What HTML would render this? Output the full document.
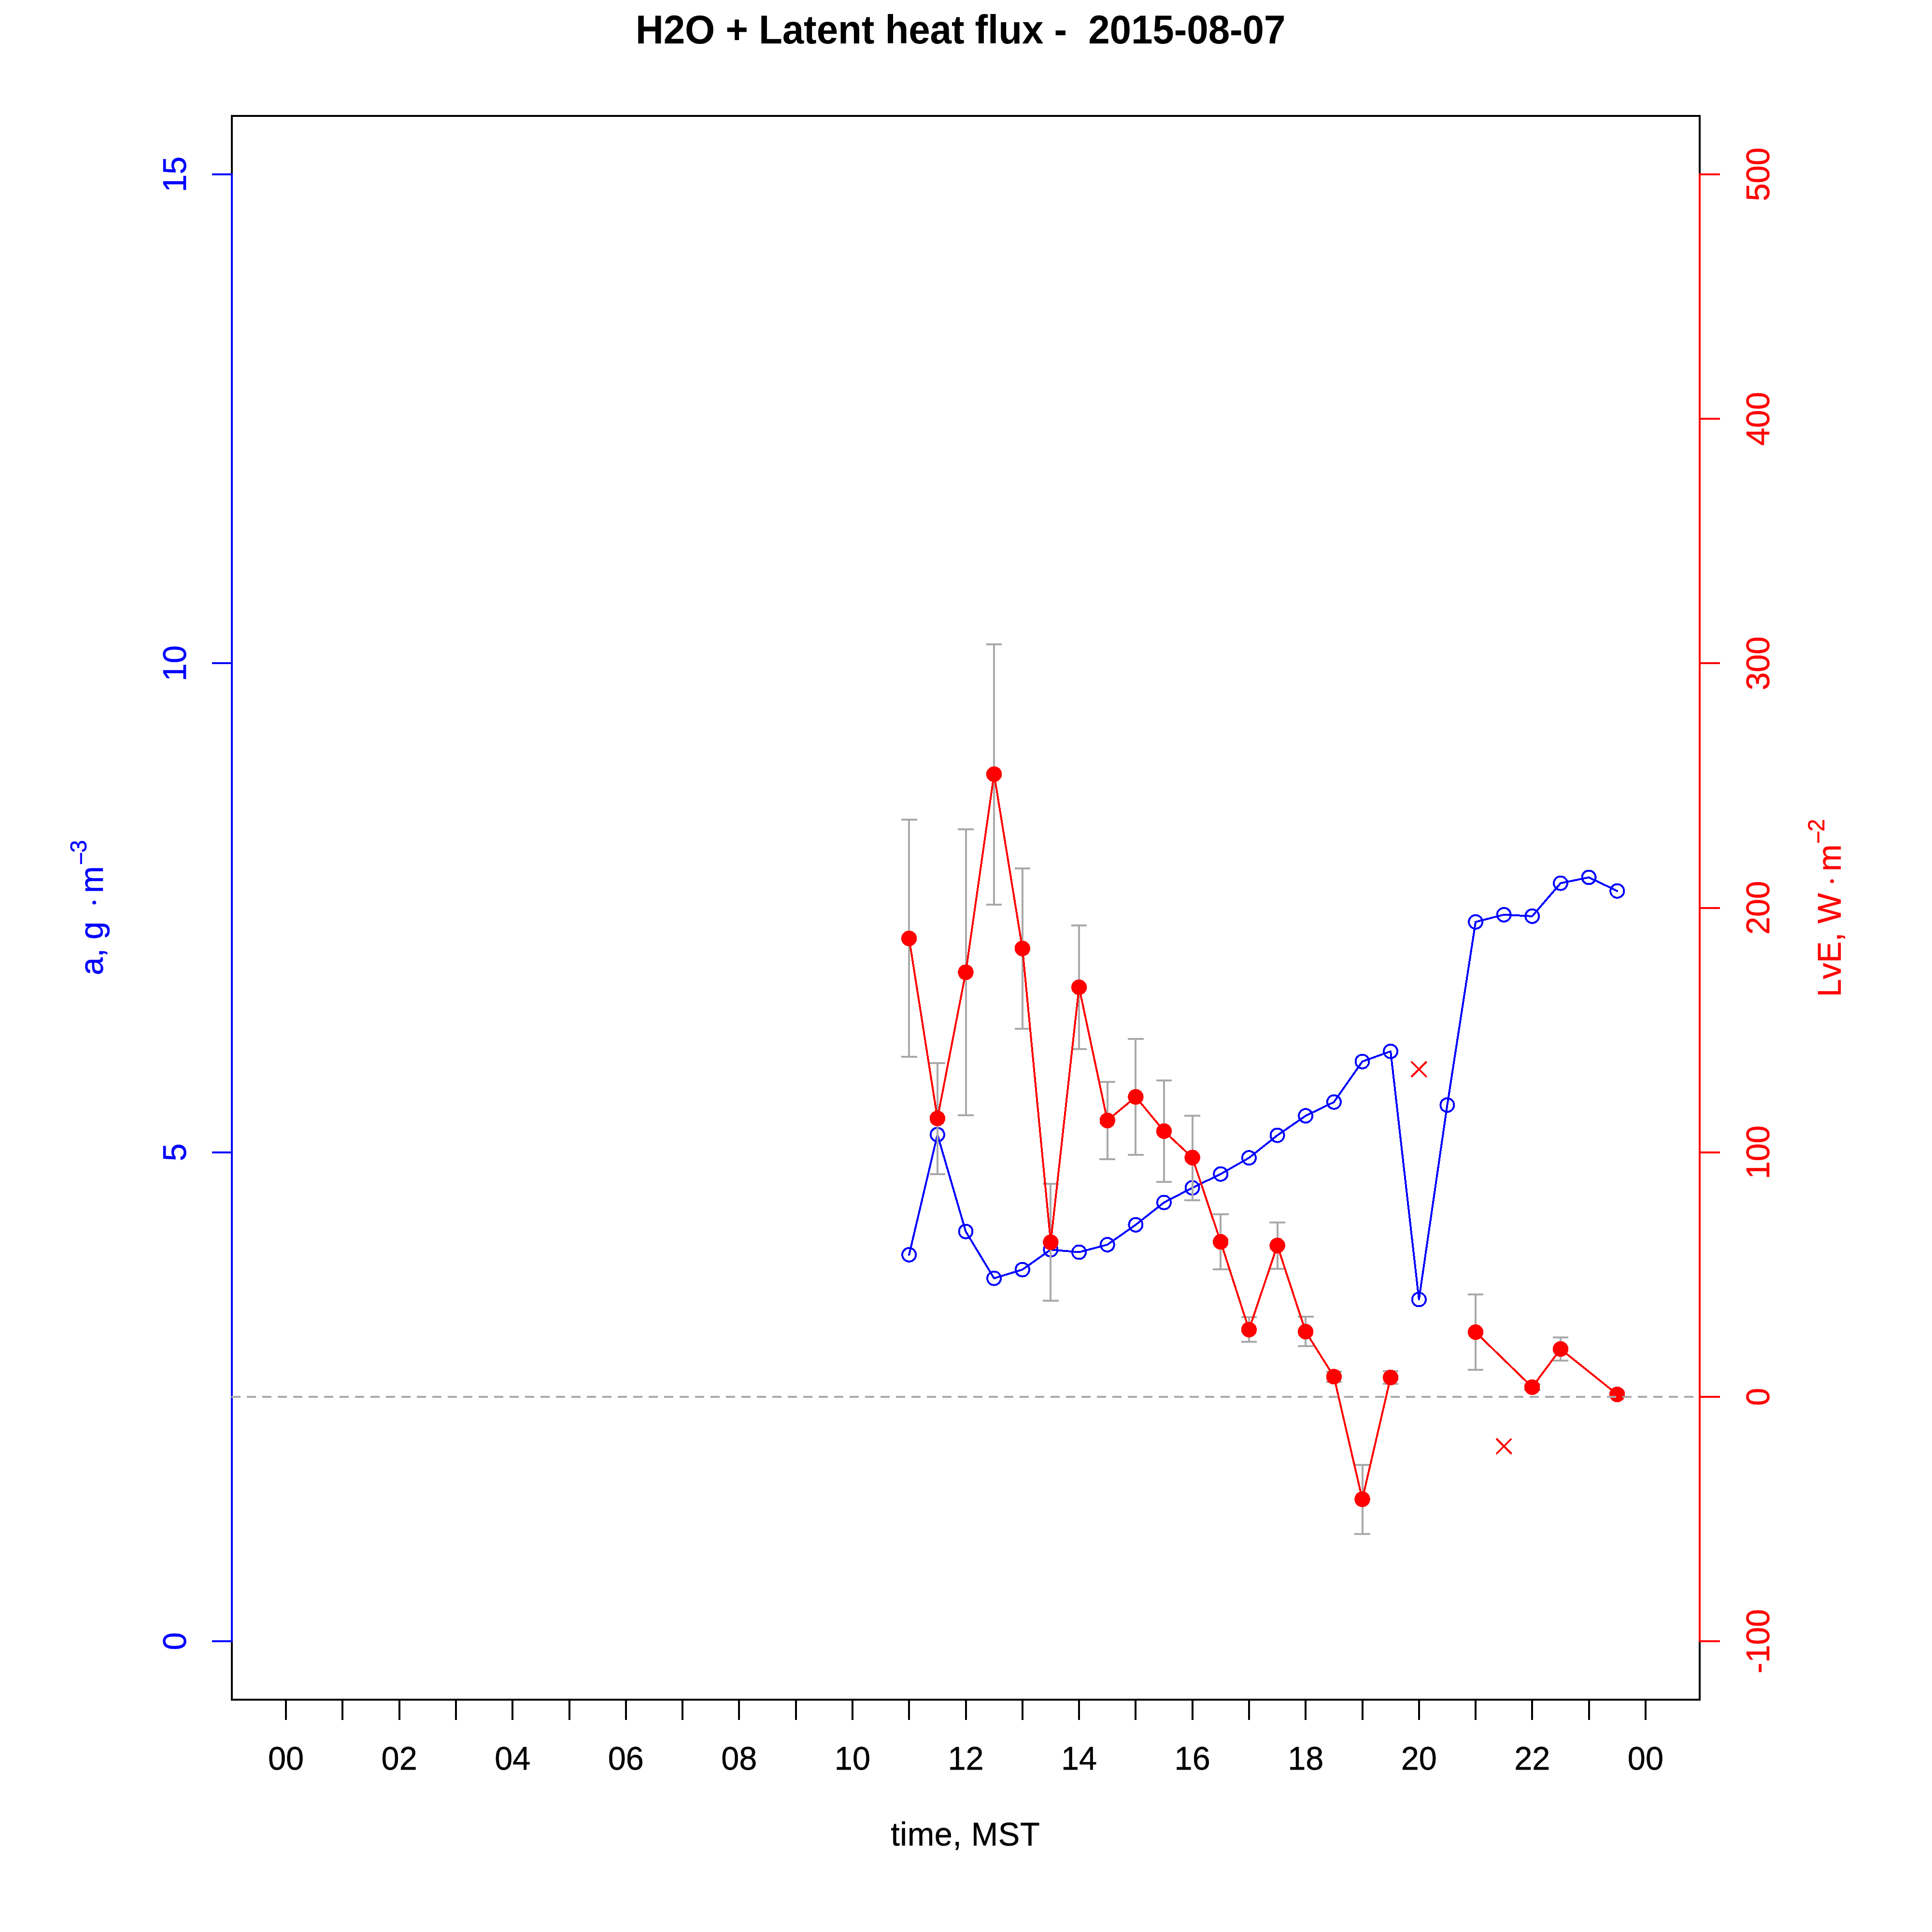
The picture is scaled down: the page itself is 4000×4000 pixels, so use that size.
<!DOCTYPE html>
<html lang="en"><head><meta charset="utf-8"><title>H2O + Latent heat flux - 2015-08-07</title>
<style>html,body{margin:0;padding:0;background:#fff;width:4000px;height:4000px;overflow:hidden}svg{display:block}text{font-family:"Liberation Sans",sans-serif;font-size:66.67px}</style>
</head><body>
<svg width="4000" height="4000" viewBox="0 0 4000 4000" shape-rendering="crispEdges">
<rect width="4000" height="4000" fill="#fff"/>
<text transform="translate(1316 89.5) scale(1 1.04)" style="font-size:80px;letter-spacing:-0.11px;font-weight:bold;white-space:pre" xml:space="preserve">H2O + Latent heat flux -  2015-08-07</text>
<rect x="480" y="240" width="3039" height="3279" fill="none" stroke="#000" stroke-width="4"/>
<g stroke="#0000ff" stroke-width="4" fill="none" stroke-linejoin="round" stroke-linecap="round">
<polyline points="1882.2,2597.8 1940.9,2349.1 1999.5,2549.7 2058.1,2646.6 2116.8,2628.6 2175.4,2587.3 2234.1,2592.5 2292.7,2577.0 2351.4,2535.8 2410.0,2489.6 2468.6,2459.3 2527.3,2430.7 2585.9,2397.2 2644.6,2350.6 2703.2,2310.2 2761.8,2281.7 2820.5,2197.8 2879.1,2176.7 2937.8,2690.5 2996.4,2287.9 3055.1,1908.7 3113.7,1893.8 3172.3,1896.9 3231.0,1828.6 3289.6,1816.5 3348.3,1844.7"/>
<circle cx="1882.2" cy="2597.8" r="14"/>
<circle cx="1940.9" cy="2349.1" r="14"/>
<circle cx="1999.5" cy="2549.7" r="14"/>
<circle cx="2058.1" cy="2646.6" r="14"/>
<circle cx="2116.8" cy="2628.6" r="14"/>
<circle cx="2175.4" cy="2587.3" r="14"/>
<circle cx="2234.1" cy="2592.5" r="14"/>
<circle cx="2292.7" cy="2577.0" r="14"/>
<circle cx="2351.4" cy="2535.8" r="14"/>
<circle cx="2410.0" cy="2489.6" r="14"/>
<circle cx="2468.6" cy="2459.3" r="14"/>
<circle cx="2527.3" cy="2430.7" r="14"/>
<circle cx="2585.9" cy="2397.2" r="14"/>
<circle cx="2644.6" cy="2350.6" r="14"/>
<circle cx="2703.2" cy="2310.2" r="14"/>
<circle cx="2761.8" cy="2281.7" r="14"/>
<circle cx="2820.5" cy="2197.8" r="14"/>
<circle cx="2879.1" cy="2176.7" r="14"/>
<circle cx="2937.8" cy="2690.5" r="14"/>
<circle cx="2996.4" cy="2287.9" r="14"/>
<circle cx="3055.1" cy="1908.7" r="14"/>
<circle cx="3113.7" cy="1893.8" r="14"/>
<circle cx="3172.3" cy="1896.9" r="14"/>
<circle cx="3231.0" cy="1828.6" r="14"/>
<circle cx="3289.6" cy="1816.5" r="14"/>
<circle cx="3348.3" cy="1844.7" r="14"/>
</g>
<g stroke="#0000ff" stroke-width="4" fill="none" stroke-linecap="butt">
<path d="M480 3400.0V359.0"/>
<path d="M439 3398.0H482"/>
<path d="M439 2385.7H482"/>
<path d="M439 1373.3H482"/>
<path d="M439 361.0H482"/>
</g>
<g fill="#0000ff" stroke="#0000ff" stroke-width=".5" text-anchor="middle">
<text transform="translate(385.3 3398.02) rotate(-90) scale(1 1.04)">0</text>
<text transform="translate(385.3 2385.67) rotate(-90) scale(1 1.04)">5</text>
<text transform="translate(385.3 1373.33) rotate(-90) scale(1 1.04)">10</text>
<text transform="translate(385.3 360.984) rotate(-90) scale(1 1.04)">15</text>
</g>
<g fill="#0000ff" stroke="#0000ff" stroke-width=".5">
<text transform="translate(213.1 2019) rotate(-90) scale(1 1.04)" style="white-space:pre" xml:space="preserve">a, g</text>
<text transform="translate(216.7 1868.6) rotate(-90) scale(1 1.04)" text-anchor="middle" style="font-size:62px;font-family:'Liberation Serif',serif">·</text>
<text transform="translate(213.1 1849) rotate(-90) scale(1 1.04)">m</text>
<text transform="translate(183.7 1791) rotate(-90) scale(1 1.04)" style="font-size:46.67px">−</text>
<text transform="translate(179.1 1765.2) rotate(-90) scale(1 1.04)" style="font-size:46.67px">3</text>
</g>
<g stroke="#a9a9a9" stroke-width="4" fill="none" stroke-linecap="butt">
<path d="M1882.2 1696.9V2188.2 M1865.9 1696.9h32.6 M1865.9 2188.2h32.6 M1940.9 2201.2V2431.0 M1924.6 2201.2h32.6 M1924.6 2431.0h32.6 M1999.5 1716.8V2309.0 M1983.2 1716.8h32.6 M1983.2 2309.0h32.6 M2058.1 1333.5V1873.0 M2041.8 1333.5h32.6 M2041.8 1873.0h32.6 M2116.8 1798.1V2130.1 M2100.5 1798.1h32.6 M2100.5 2130.1h32.6 M2175.4 2451.2V2693.2 M2159.1 2451.2h32.6 M2159.1 2693.2h32.6 M2234.1 1916.1V2171.7 M2217.8 1916.1h32.6 M2217.8 2171.7h32.6 M2292.7 2239.8V2400.0 M2276.4 2239.8h32.6 M2276.4 2400.0h32.6 M2351.4 2150.5V2391.0 M2335.1 2150.5h32.6 M2335.1 2391.0h32.6 M2410.0 2237.0V2446.9 M2393.7 2237.0h32.6 M2393.7 2446.9h32.6 M2468.6 2310.2V2485.1 M2452.3 2310.2h32.6 M2452.3 2485.1h32.6 M2527.3 2514.0V2628.0 M2511.0 2514.0h32.6 M2511.0 2628.0h32.6 M2585.9 2726.7V2777.6 M2569.6 2726.7h32.6 M2569.6 2777.6h32.6 M2644.6 2531.0V2627.0 M2628.3 2531.0h32.6 M2628.3 2627.0h32.6 M2703.2 2726.1V2786.6 M2686.9 2726.1h32.6 M2686.9 2786.6h32.6 M2761.8 2840.0V2861.2 M2745.5 2840.0h32.6 M2745.5 2861.2h32.6 M2820.5 3033.0V3175.8 M2804.2 3033.0h32.6 M2804.2 3175.8h32.6 M2879.1 2838.8V2865.2 M2862.8 2838.8h32.6 M2862.8 2865.2h32.6 M3055.1 2680.1V2836.0 M3038.8 2680.1h32.6 M3038.8 2836.0h32.6 M3172.3 2865.8V2878.3 M3156.0 2865.8h32.6 M3156.0 2878.3h32.6 M3231.0 2769.0V2816.8 M3214.7 2769.0h32.6 M3214.7 2816.8h32.6"/>
</g>
<g stroke="#ff0000" stroke-width="4" fill="none" stroke-linejoin="round" stroke-linecap="round">
<polyline points="1882.2,1942.9 1940.9,2315.5 1999.5,2013.0 2058.1,1602.8 2116.8,1963.7 2175.4,2572.0 2234.1,2044.1 2292.7,2319.9 2351.4,2271.0 2410.0,2341.9 2468.6,2396.6 2527.3,2571.1 2585.9,2752.8 2644.6,2578.6 2703.2,2757.1 2761.8,2850.3 2820.5,3104.0 2879.1,2851.9"/>
<polyline points="3055.1,2758.1 3172.3,2872.0 3231.0,2792.9 3348.3,2887.0"/>
<path stroke-linecap="butt" d="M2922.0 2198.0l31.6 31.6m0 -31.6l-31.6 31.6"/>
<path stroke-linecap="butt" d="M3097.9 2978.6l31.6 31.6m0 -31.6l-31.6 31.6"/>
</g>
<g fill="#ff0000">
<circle cx="1882.2" cy="1942.9" r="16.2"/>
<circle cx="1940.9" cy="2315.5" r="16.2"/>
<circle cx="1999.5" cy="2013.0" r="16.2"/>
<circle cx="2058.1" cy="1602.8" r="16.2"/>
<circle cx="2116.8" cy="1963.7" r="16.2"/>
<circle cx="2175.4" cy="2572.0" r="16.2"/>
<circle cx="2234.1" cy="2044.1" r="16.2"/>
<circle cx="2292.7" cy="2319.9" r="16.2"/>
<circle cx="2351.4" cy="2271.0" r="16.2"/>
<circle cx="2410.0" cy="2341.9" r="16.2"/>
<circle cx="2468.6" cy="2396.6" r="16.2"/>
<circle cx="2527.3" cy="2571.1" r="16.2"/>
<circle cx="2585.9" cy="2752.8" r="16.2"/>
<circle cx="2644.6" cy="2578.6" r="16.2"/>
<circle cx="2703.2" cy="2757.1" r="16.2"/>
<circle cx="2761.8" cy="2850.3" r="16.2"/>
<circle cx="2820.5" cy="3104.0" r="16.2"/>
<circle cx="2879.1" cy="2851.9" r="16.2"/>
<circle cx="3055.1" cy="2758.1" r="16.2"/>
<circle cx="3172.3" cy="2872.0" r="16.2"/>
<circle cx="3231.0" cy="2792.9" r="16.2"/>
<circle cx="3348.3" cy="2887.0" r="16.2"/>
</g>
<path d="M479 2891.8H3521" stroke="#a9a9a9" stroke-width="4" stroke-dasharray="19 13" fill="none"/>
<g stroke="#000" stroke-width="4" fill="none">
<path d="M592.1 3519V3560.5 M709.4 3519V3560.5 M826.7 3519V3560.5 M943.9 3519V3560.5 M1061.2 3519V3560.5 M1178.5 3519V3560.5 M1295.8 3519V3560.5 M1413.1 3519V3560.5 M1530.4 3519V3560.5 M1647.6 3519V3560.5 M1764.9 3519V3560.5 M1882.2 3519V3560.5 M1999.5 3519V3560.5 M2116.8 3519V3560.5 M2234.1 3519V3560.5 M2351.4 3519V3560.5 M2468.6 3519V3560.5 M2585.9 3519V3560.5 M2703.2 3519V3560.5 M2820.5 3519V3560.5 M2937.8 3519V3560.5 M3055.1 3519V3560.5 M3172.3 3519V3560.5 M3289.6 3519V3560.5 M3406.9 3519V3560.5"/>
</g>
<g fill="#000" stroke="#000" stroke-width=".5" text-anchor="middle">
<text transform="translate(592.093 3663.5) scale(1 1.04)">00</text>
<text transform="translate(826.661 3663.5) scale(1 1.04)">02</text>
<text transform="translate(1061.23 3663.5) scale(1 1.04)">04</text>
<text transform="translate(1295.8 3663.5) scale(1 1.04)">06</text>
<text transform="translate(1530.36 3663.5) scale(1 1.04)">08</text>
<text transform="translate(1764.93 3663.5) scale(1 1.04)">10</text>
<text transform="translate(1999.5 3663.5) scale(1 1.04)">12</text>
<text transform="translate(2234.07 3663.5) scale(1 1.04)">14</text>
<text transform="translate(2468.64 3663.5) scale(1 1.04)">16</text>
<text transform="translate(2703.2 3663.5) scale(1 1.04)">18</text>
<text transform="translate(2937.77 3663.5) scale(1 1.04)">20</text>
<text transform="translate(3172.34 3663.5) scale(1 1.04)">22</text>
<text transform="translate(3406.91 3663.5) scale(1 1.04)">00</text>
<text transform="translate(1998.7 3821) scale(1 1.04)" style="letter-spacing:0.6px">time, MST</text>
</g>
<g stroke="#ff0000" stroke-width="4" fill="none">
<path d="M3519 3400.0V359.0"/>
<path d="M3517 3398.0H3561"/>
<path d="M3517 2891.8H3561"/>
<path d="M3517 2385.7H3561"/>
<path d="M3517 1879.5H3561"/>
<path d="M3517 1373.3H3561"/>
<path d="M3517 867.2H3561"/>
<path d="M3517 361.0H3561"/>
</g>
<g fill="#ff0000" stroke="#ff0000" stroke-width=".5" text-anchor="middle">
<text transform="translate(3662.5 3398.02) rotate(-90) scale(1 1.04)">-100</text>
<text transform="translate(3662.5 2891.85) rotate(-90) scale(1 1.04)">0</text>
<text transform="translate(3662.5 2385.67) rotate(-90) scale(1 1.04)">100</text>
<text transform="translate(3662.5 1879.5) rotate(-90) scale(1 1.04)">200</text>
<text transform="translate(3662.5 1373.33) rotate(-90) scale(1 1.04)">300</text>
<text transform="translate(3662.5 867.153) rotate(-90) scale(1 1.04)">400</text>
<text transform="translate(3662.5 360.98) rotate(-90) scale(1 1.04)">500</text>
</g>
<g fill="#ff0000" stroke="#ff0000" stroke-width=".5">
<text transform="translate(3811.1 2064) rotate(-90) scale(1 1.04)" style="white-space:pre" xml:space="preserve">LvE, W</text>
<text transform="translate(3814.7 1824.4) rotate(-90) scale(1 1.04)" text-anchor="middle" style="font-size:62px;font-family:'Liberation Serif',serif">·</text>
<text transform="translate(3811.1 1804) rotate(-90) scale(1 1.04)">m</text>
<text transform="translate(3780.7 1747) rotate(-90) scale(1 1.04)" style="font-size:46.67px">−</text>
<text transform="translate(3776.5 1721.5) rotate(-90) scale(1 1.04)" style="font-size:46.67px">2</text>
</g>
</svg></body></html>
